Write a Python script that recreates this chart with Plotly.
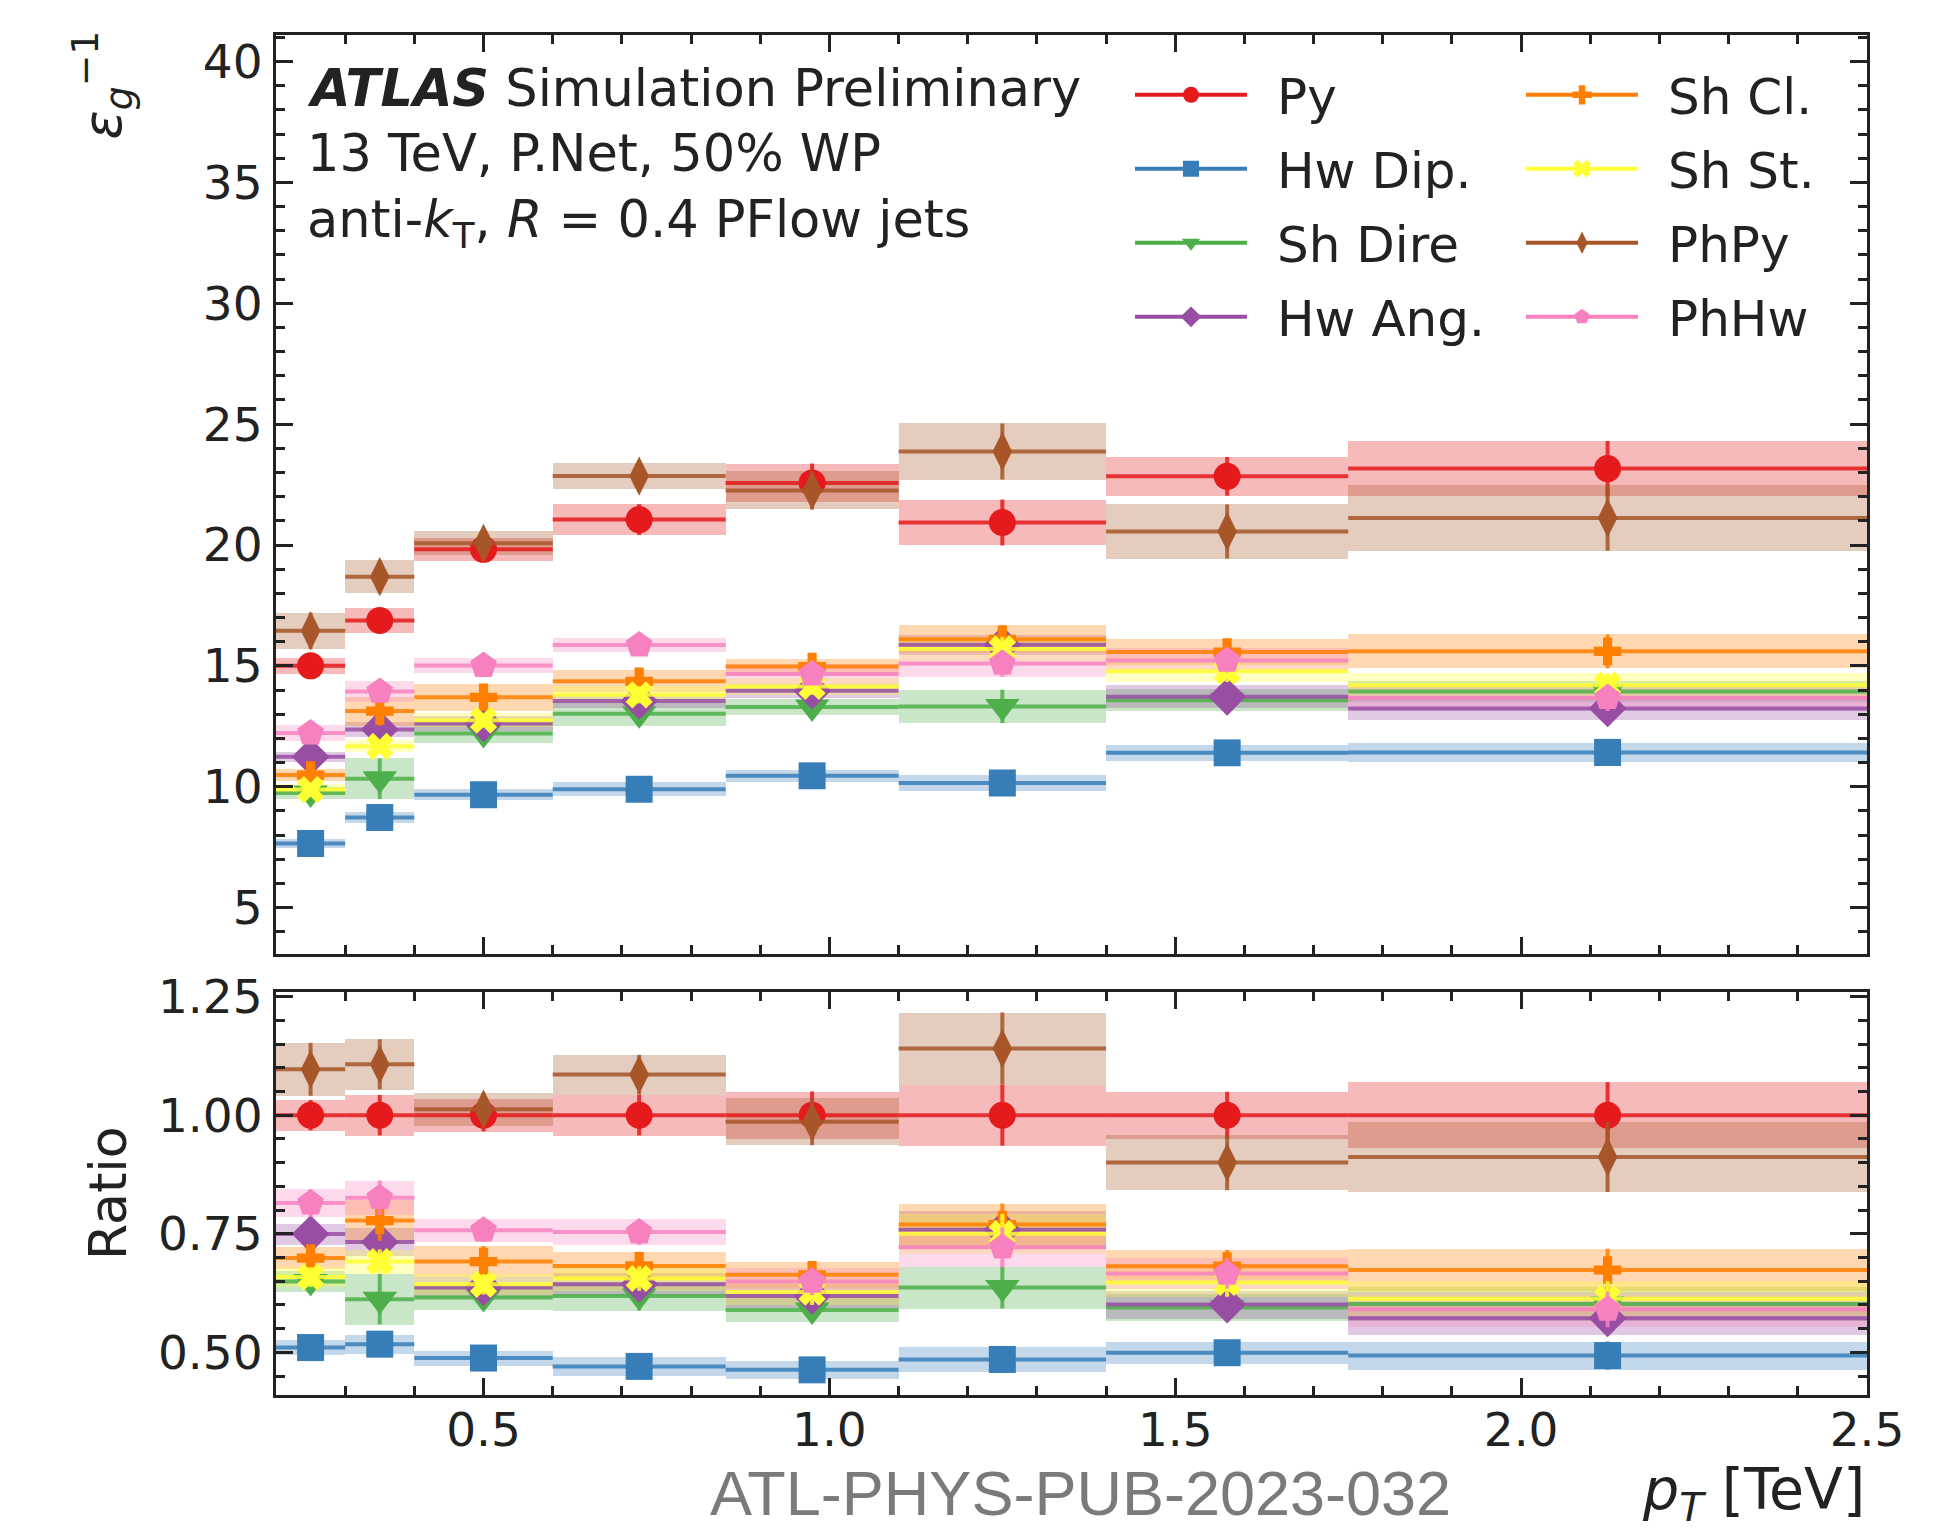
import numpy as np
import plotly.graph_objects as go

# ---------------- data ----------------
edges = [0.2, 0.3, 0.4, 0.6, 0.85, 1.1, 1.4, 1.75, 2.5]

names = ["Py", "Hw Dip.", "Sh Dire", "Hw Ang.", "Sh Cl.", "Sh St.", "PhPy", "PhHw"]

py = [15.0, 16.88, 19.82, 21.05, 22.57, 20.93, 22.84, 23.16]
py_err = [0.34, 0.51, 0.48, 0.64, 0.80, 0.95, 0.80, 1.14]

hw_dip = [7.65, 8.73, 9.67, 9.90, 10.45, 10.15, 11.40, 11.42]
hw_dip_err = [0.17, 0.22, 0.22, 0.30, 0.24, 0.32, 0.32, 0.40]

sh_dire = [9.74, 10.33, 12.20, 13.02, 13.30, 13.32, 13.58, 13.94]
sh_dire_err = [0.26, 0.84, 0.40, 0.50, 0.33, 0.69, 0.45, 0.45]

hw_ang = [11.24, 12.37, 12.62, 13.55, 13.97, 15.87, 13.72, 13.24]
hw_ang_err = [0.21, 0.31, 0.30, 0.30, 0.30, 0.40, 0.48, 0.50]

sh_cl = [10.48, 13.13, 13.70, 14.36, 14.97, 16.10, 15.57, 15.60]
sh_cl_err = [0.26, 0.60, 0.56, 0.45, 0.33, 0.58, 0.55, 0.70]

sh_st = [9.88, 11.67, 12.75, 13.80, 14.15, 15.70, 14.78, 14.20]
sh_st_err = [0.22, 0.25, 0.30, 0.35, 0.35, 0.50, 0.45, 0.50]

ph_py = [16.45, 18.69, 20.07, 22.85, 22.26, 23.87, 20.56, 21.12]
ph_py_err = [0.75, 0.69, 0.50, 0.54, 0.79, 1.16, 1.12, 1.36]

ph_hw = [12.22, 13.94, 15.01, 15.86, 14.66, 15.10, 15.22, 13.68]
ph_hw_err = [0.34, 0.45, 0.32, 0.30, 0.40, 0.55, 0.50, 0.55]

top_ticks = [5, 10, 15, 20, 25, 30, 35, 40]
ratio_ticks = [0.5, 0.75, 1.0, 1.25]
x_ticks = [0.5, 1.0, 1.5, 2.0, 2.5]

# ---------------- styling ----------------
values = [py, hw_dip, sh_dire, hw_ang, sh_cl, sh_st, ph_py, ph_hw]
errors = [py_err, hw_dip_err, sh_dire_err, hw_ang_err, sh_cl_err, sh_st_err, ph_py_err, ph_hw_err]
colors = ["#e41a1c", "#377eb8", "#4daf4a", "#984ea3", "#ff7f00", "#ffff33", "#a65628", "#f781bf"]
symbols = ["circle", "square", "triangle-down", "diamond", "cross", "x", "diamond-tall", "pentagon"]
sizes = [27, 27, 30, 29, 23, 24, 28, 28]

FONT = "DejaVu Sans"
TXT = "#222222"
W, H = 1948, 1531
ML, MR, MT, MB = 276, 81, 22, 136
PW, PH = W - ML - MR, H - MT - MB


def px_x(px):
    return (px - ML) / PW


def px_y(py_):
    return (H - MB - py_) / PH


def rgba(h, a):
    h = h.lstrip("#")
    return "rgba(%d,%d,%d,%.3f)" % (int(h[0:2], 16), int(h[2:4], 16), int(h[4:6], 16), a)


lo = np.array(edges[:-1])
hi = np.array(edges[1:])
centers = (lo + hi) / 2
widths = hi - lo

ref = np.array(py)
ref_rel = np.array(py_err) / ref

fig = go.Figure()

for i, (name, v, e, col, sym, sz) in enumerate(zip(names, values, errors, colors, symbols, sizes)):
    v = np.array(v, dtype=float)
    e = np.array(e, dtype=float)
    r = v / ref
    re = r * np.sqrt((e / v) ** 2 + ref_rel ** 2)
    for yy, ee, xa, ya in [(v, e, "x", "y"), (r, re, "x2", "y2")]:
        fig.add_trace(go.Bar(
            x=centers, y=2 * ee, base=yy - ee, width=widths,
            marker=dict(color=rgba(col, 0.3), line=dict(width=0)),
            xaxis=xa, yaxis=ya, showlegend=False, hoverinfo="skip"))
        fig.add_trace(go.Scatter(
            x=centers, y=yy, mode="markers",
            marker=dict(symbol=sym, size=sz, color=col, line=dict(width=0)),
            error_x=dict(type="data", array=widths / 2, color=rgba(col, 0.85), thickness=4, width=0),
            error_y=dict(type="data", array=ee, color=rgba(col, 0.85), thickness=4, width=0),
            xaxis=xa, yaxis=ya, showlegend=False, name=name))
    # legend entry
    fig.add_trace(go.Scatter(
        x=[None], y=[None], mode="lines+markers", name="\u2002" + name,
        line=dict(color=col, width=4),
        marker=dict(symbol=sym, size=sz, color=col, line=dict(width=0)),
        legend="legend" if i < 4 else "legend2", legendgroup="g%d" % i,
        xaxis="x", yaxis="y"))

axis_common = dict(
    showline=True, linecolor=TXT, linewidth=3, mirror="allticks",
    ticks="inside", ticklen=17, tickwidth=3, tickcolor=TXT,
    showgrid=False, zeroline=False,
    tickfont=dict(family=FONT, size=47, color=TXT),
)

fig.update_layout(
    width=W, height=H,
    margin=dict(l=ML, r=MR, t=MT, b=MB, pad=0),
    paper_bgcolor="white", plot_bgcolor="white",
    barmode="overlay", bargap=0,
    font=dict(family=FONT, color=TXT),
    xaxis=dict(domain=[0, 1], range=[0.2, 2.5], anchor="y", tickvals=x_ticks,
               showticklabels=False, matches="x2",
               minor=dict(dtick=0.1, tick0=0, ticklen=9, tickwidth=2.5, tickcolor=TXT, ticks="inside"),
               **axis_common),
    yaxis=dict(domain=[px_y(950), 1], range=[3.07, 41.1], anchor="x", tickvals=top_ticks,
               ticklabelstandoff=1,
               minor=dict(dtick=1, tick0=0, ticklen=9, tickwidth=2.5, tickcolor=TXT, ticks="inside"),
               **axis_common),
    xaxis2=dict(domain=[0, 1], range=[0.2, 2.5], anchor="y2", tickvals=x_ticks,
                tickformat=".1f", ticklabelstandoff=-8,
                minor=dict(dtick=0.1, tick0=0, ticklen=9, tickwidth=2.5, tickcolor=TXT, ticks="inside"),
                **axis_common),
    yaxis2=dict(domain=[0, px_y(988)], range=[0.41, 1.26], anchor="x2", tickvals=ratio_ticks,
                tickformat=".2f", ticklabelstandoff=1,
                minor=dict(dtick=0.05, tick0=0, ticklen=9, tickwidth=2.5, tickcolor=TXT, ticks="inside"),
                **axis_common),
    legend=dict(x=px_x(1130), y=px_y(43), xanchor="left", yanchor="top",
                bgcolor="rgba(0,0,0,0)", borderwidth=0, itemwidth=112,
                tracegroupgap=6, font=dict(family=FONT, size=50, color=TXT)),
    legend2=dict(x=px_x(1521), y=px_y(43), xanchor="left", yanchor="top",
                 bgcolor="rgba(0,0,0,0)", borderwidth=0, itemwidth=112,
                 tracegroupgap=6, font=dict(family=FONT, size=50, color=TXT)),
)

ann = [
    dict(text="<b><i>ATLAS</i></b> Simulation Preliminary", x=px_x(305), y=px_y(76)),
    dict(text="13 TeV, P.Net, 50% WP", x=px_x(305), y=px_y(142)),
    dict(text="anti-<i>k</i><sub>T</sub>, <i>R</i> = 0.4 PFlow jets", x=px_x(305), y=px_y(212)),
]
for a in ann:
    fig.add_annotation(text=a["text"], x=a["x"], y=a["y"], xref="paper", yref="paper",
                       xanchor="left", yanchor="middle", showarrow=False,
                       font=dict(family=FONT, size=51, color=TXT))

fig.add_annotation(text="<i>ε</i><sub><i>g</i></sub><sup>−1</sup>", x=px_x(102), y=px_y(16),
                   xref="paper", yref="paper", xanchor="center", yanchor="top",
                   textangle=-90, showarrow=False, font=dict(family=FONT, size=54, color=TXT))
fig.add_annotation(text="Ratio", x=px_x(108), y=px_y(1191),
                   xref="paper", yref="paper", xanchor="center", yanchor="middle",
                   textangle=-90, showarrow=False, font=dict(family=FONT, size=52, color=TXT))
fig.add_annotation(text="<i>p<sub>T</sub></i> [TeV]", x=1.0, y=px_y(1494),
                   xref="paper", yref="paper", xanchor="right", yanchor="middle",
                   showarrow=False, font=dict(family=FONT, size=57, color=TXT))
fig.add_annotation(text="ATL-PHYS-PUB-2023-032", x=px_x(1080), y=px_y(1494),
                   xref="paper", yref="paper", xanchor="center", yanchor="middle",
                   showarrow=False,
                   font=dict(family="Liberation Sans Narrow, Liberation Sans, Arial", size=63, color="#7a7a7a"))

fig.write_html("out.html", include_plotlyjs=True, config={"displayModeBar": False},
               post_script="document.body.style.margin='0';document.body.style.overflow='hidden';")
